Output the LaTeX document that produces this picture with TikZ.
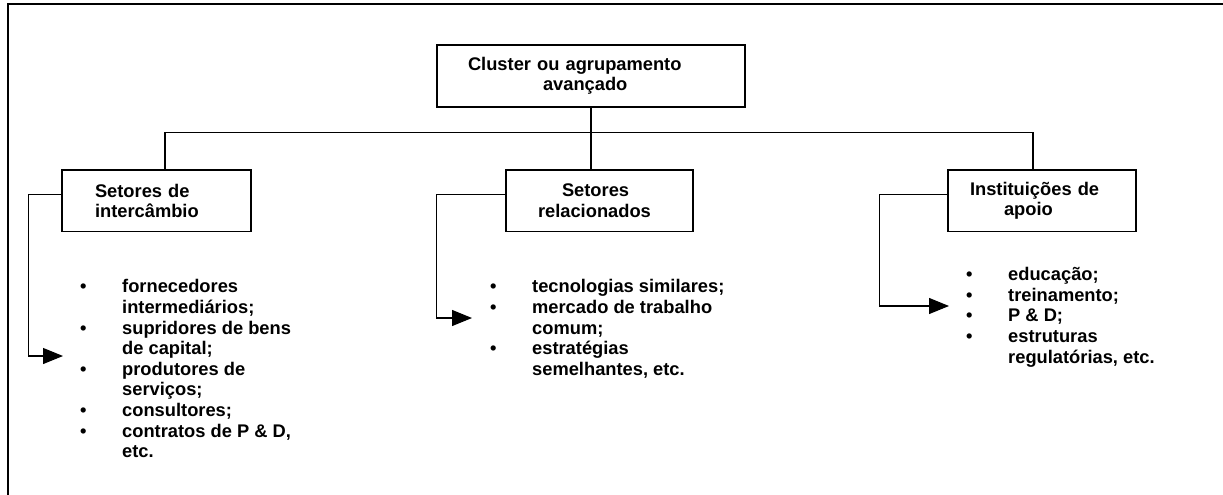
\documentclass[tikz,border=0pt]{standalone}
\usepackage{fontspec}
\setmainfont{Liberation Sans}
\usepackage{tikz}
\usetikzlibrary{shapes,arrows.meta}
\setlength{\parindent}{0pt}
\tikzstyle{block} = [rectangle, draw, line width=1.4pt, inner sep=0pt, align=left, minimum height=61.5pt, font=\bfseries\fontsize{18.3pt}{20.5pt}\selectfont]
\tikzstyle{items} = [anchor=north west, inner sep=0pt, font=\bfseries\fontsize{18.3pt}{20.6pt}\selectfont]
\tikzstyle{link} = [draw, line width=1.2pt]
\tikzstyle{line} = [draw, line width=1.2pt, -{Triangle[length=20pt,width=16pt]}]

\begin{document}
\begin{tikzpicture}[x=1pt, y=-1pt]
    \useasboundingbox (0,0) rectangle (1223,495);
    % Frame
    \draw[line width=2pt] (1223,4.3) -- (7.7,4.3) -- (7.7,495);
    % Place nodes
    \node [block, text width=308pt, minimum height=62pt] (cluster) at (591,76) {\hspace*{31pt}Cluster ou agrupamento\\\hspace*{106pt}avançado};
    \node [block, text width=189pt] (intercambio) at (156.5,200.75) {\hspace*{33pt}Setores de\\\hspace*{33pt}intercâmbio};
    \node [block, text width=187pt] (relacionados) at (599.5,200.75) {\hspace*{56pt}Setores\\\hspace*{32pt}relacionados};
    \node [block, text width=188pt] (apoio) at (1042,200.75) {\hspace*{22pt}Instituições de\\\hspace*{56pt}apoio};
    \node [items] (fornecedores) at (80,278.3) {%
        \begin{tabular}{@{}p{42pt}@{}l@{}}
        \textbullet & fornecedores\\
                    & intermediários;\\
        \textbullet & supridores de bens\\
                    & de capital;\\
        \textbullet & produtores de\\
                    & serviços;\\
        \textbullet & consultores;\\
        \textbullet & contratos de P \& D,\\
                    & etc.
        \end{tabular}};
    \node [items] (tecnologias) at (490,278.3) {%
        \begin{tabular}{@{}p{42pt}@{}l@{}}
        \textbullet & tecnologias similares;\\
        \textbullet & mercado de trabalho\\
                    & comum;\\
        \textbullet & estratégias\\
                    & semelhantes, etc.
        \end{tabular}};
    \node [items] (educacao) at (966,266) {%
        \begin{tabular}{@{}p{42pt}@{}l@{}}
        \textbullet & educação;\\
        \textbullet & treinamento;\\
        \textbullet & P \& D;\\
        \textbullet & estruturas\\
                    & regulatórias, etc.
        \end{tabular}};
    \coordinate (tipA) at (63,356);
    \coordinate (tipB) at (472,318);
    \coordinate (tipC) at (949,306);
    % Draw edges
    \path [link] (cluster.south) -- ++(0,25) coordinate (hub);
    \path [link] ([xshift=8.5pt]intercambio.north) |- (hub) -| ([xshift=-9pt]apoio.north);
    \path [link] (hub) -- (cluster.south |- relacionados.north);
    \path [line] ([yshift=6.5pt]intercambio.west) -- ++(-33,0) |- (tipA);
    \path [line] ([yshift=6pt]relacionados.west) -- ++(-69,0) |- (tipB);
    \path [line] ([yshift=6.5pt]apoio.west) -- ++(-68,0) |- (tipC);
\end{tikzpicture}
\end{document}
